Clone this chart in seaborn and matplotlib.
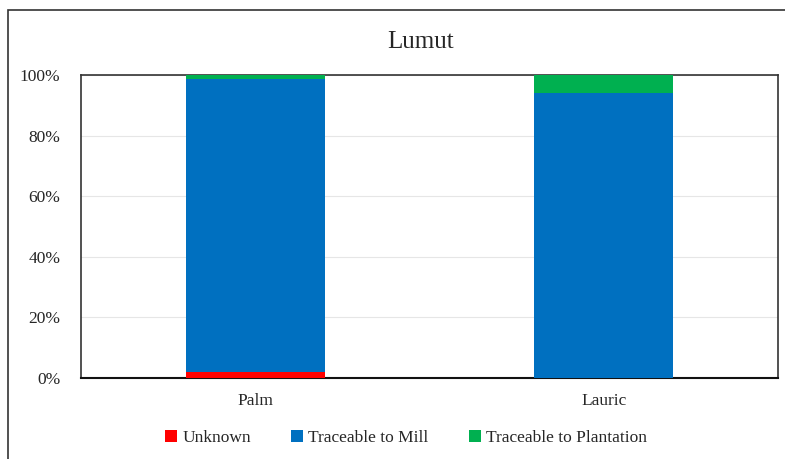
import numpy as np
import pandas as pd
import matplotlib.pyplot as plt
import seaborn as sns
from matplotlib.patches import Rectangle

categories = ['Palm', 'Lauric']
unknown = [2.0, 0.0]
mill = [96.7, 94.0]
plantation = [1.3, 6.0]

series = ['Unknown', 'Traceable to Mill', 'Traceable to Plantation']
colors = ['#FF0000', '#0070C0', '#00B050']

df = pd.DataFrame({'category': categories, 'Unknown': unknown,
                   'Traceable to Mill': mill, 'Traceable to Plantation': plantation})

sns.set_style('white')
plt.rcParams['font.family'] = ['Liberation Serif', 'DejaVu Serif']

fig = plt.figure(figsize=(7.85, 4.59), dpi=100)
ax = fig.add_axes([81 / 785, 1 - 378 / 459, 697 / 785, 303 / 459])

bottom = np.zeros(len(categories))
for name, col in zip(series, colors):
    sns.barplot(data=df, x='category', y=name, color=col, width=0.4,
                bottom=bottom, ax=ax, label=name, saturation=1, zorder=3,
                linewidth=0)
    bottom = bottom + df[name].values

handles, labels = ax.get_legend_handles_labels()
if ax.get_legend() is not None:
    ax.get_legend().remove()

ax.set_xlim(-0.5, 1.5)
ax.set_ylim(0, 100)
ax.set_yticks(range(0, 101, 20))
ax.set_yticklabels([f'{v}%' for v in range(0, 101, 20)], fontsize=12.5)
ax.tick_params(axis='x', labelsize=12.5, length=0, pad=11)
ax.tick_params(axis='y', length=0, pad=15)
ax.set_xlabel('')
ax.set_ylabel('')
ax.grid(axis='y', color='#E6E6E6', linewidth=0.8, zorder=0)
for s in ax.spines.values():
    s.set_color('#333333')
    s.set_linewidth(1.2)
ax.spines['bottom'].set_color('#111111')
ax.spines['bottom'].set_linewidth(1.5)

fig.text(421 / 785, 1 - 42 / 459, 'Lumut', ha='center', va='center', fontsize=18)

fig.legend(handles, labels, loc='center', bbox_to_anchor=(406 / 785, 1 - 438 / 459),
           ncol=3, frameon=False, fontsize=12.5, handlelength=0.7, handleheight=0.7,
           handletextpad=0.3, columnspacing=2.3)

fig.patches.append(Rectangle((8 / 785, -0.05), 1.0, 1 - 10 / 459 + 0.05,
                             transform=fig.transFigure, fill=False,
                             edgecolor='#333333', linewidth=1.2))

fig.savefig('out.png', dpi=100)
